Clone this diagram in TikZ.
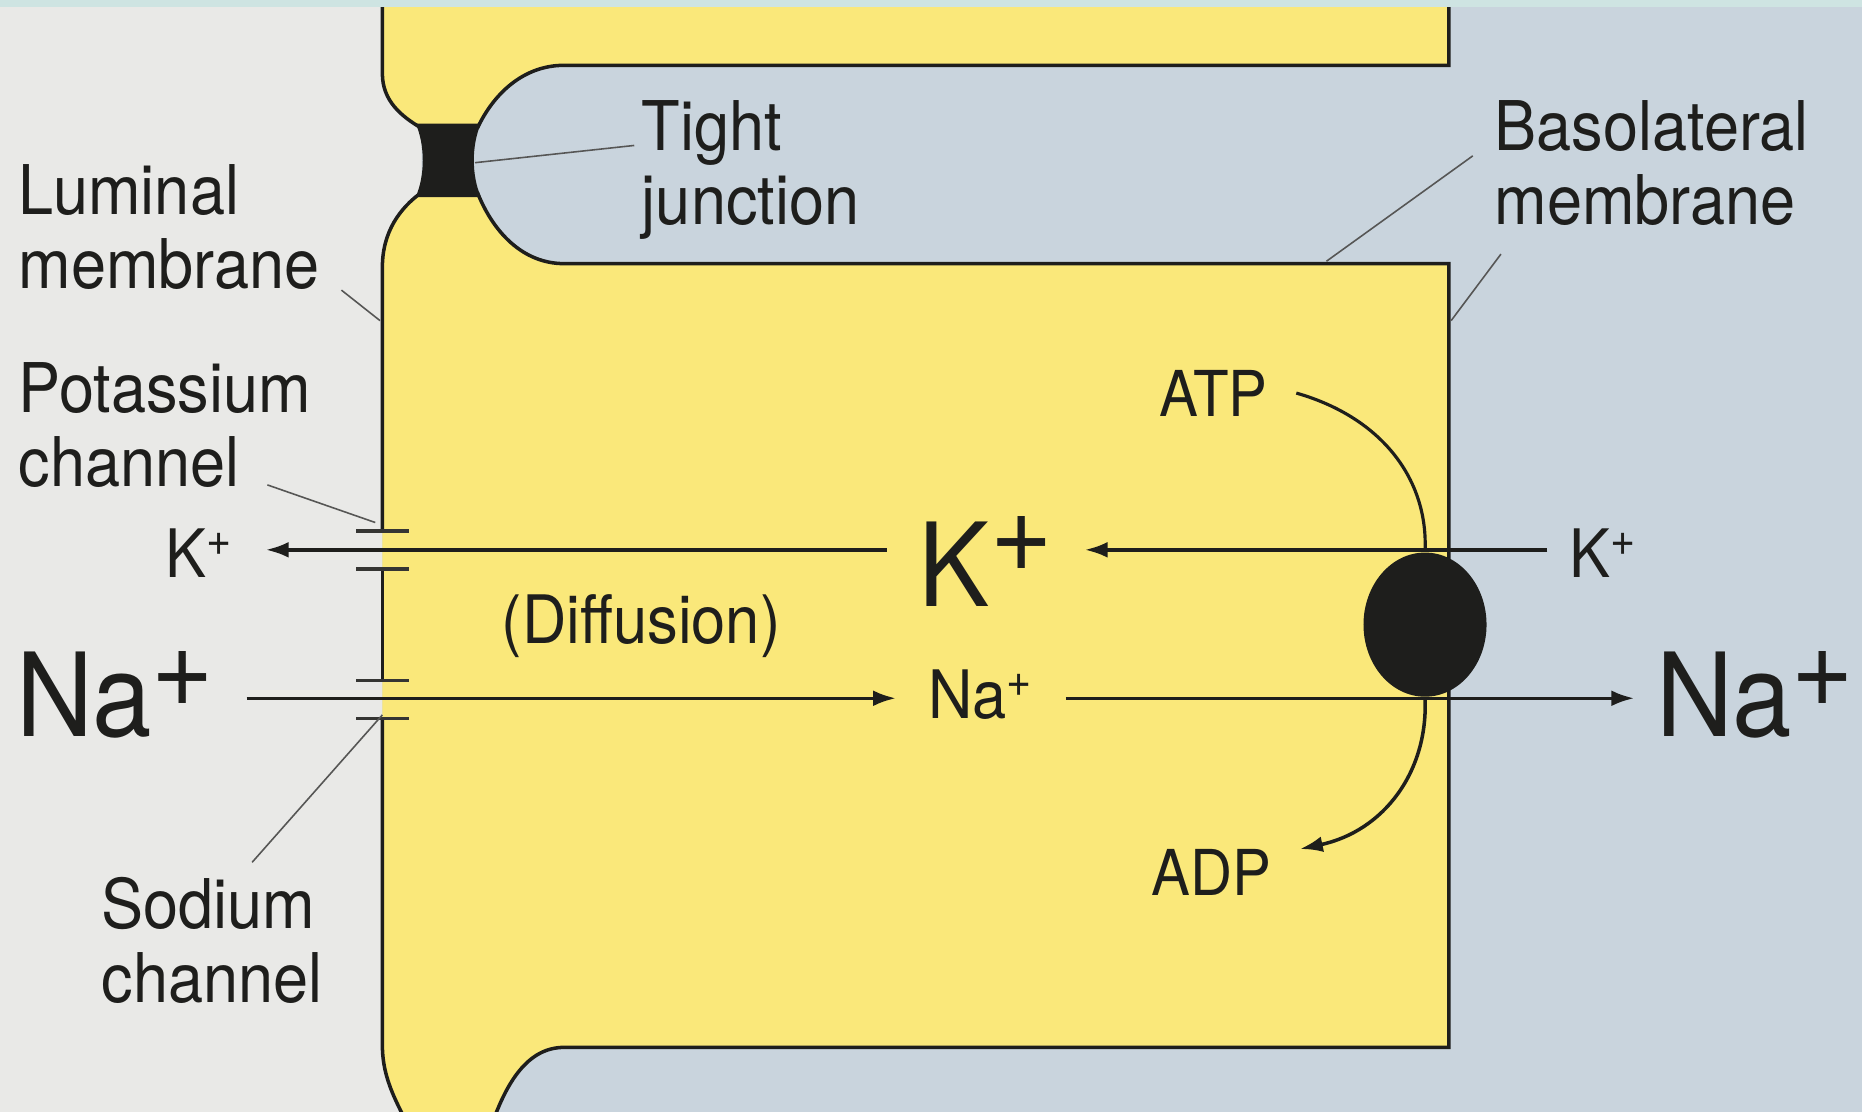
\documentclass[tikz,border=0pt]{standalone}
\usepackage{fontspec}
\setmainfont{TeX Gyre Heros}[FakeStretch=0.92]
\usepackage{tikz}
\usetikzlibrary{arrows.meta,shapes.geometric}
\definecolor{cellyel}{RGB}{250,232,122}
\definecolor{lumgray}{RGB}{233,233,231}
\definecolor{intgray}{RGB}{201,212,221}
\definecolor{topband}{RGB}{206,228,226}
\definecolor{ink}{RGB}{30,30,28}
\newcommand{\lblsize}{\fontsize{19.5pt}{21pt}\selectfont}
\newcommand{\ionbig}{\fontsize{33pt}{33pt}\selectfont}
\newcommand{\ionsmall}{\fontsize{19pt}{19pt}\selectfont}
\newcommand{\atpsize}{\fontsize{18pt}{18pt}\selectfont}
\newcommand{\bplus}[1]{\raisebox{#1}{+}}
\tikzset{
  memb/.style={draw=ink, line width=1pt},
  chan/.style={draw=ink!90, line width=1.1pt},
  arr/.style={-{Latex[length=6.5pt,width=4.5pt]}, draw=ink, line width=1pt},
  flow/.style={draw=ink, line width=0.9pt},
  lead/.style={draw=ink!75, line width=0.45pt},
  lbl/.style={anchor=north west, inner sep=0pt, align=left, font=\lblsize, text=ink},
  ion/.style={inner ysep=0pt, inner xsep=9pt, text depth=0pt, text=ink},
  bigion/.style={ion, font=\ionbig},
  smallion/.style={ion, font=\ionsmall},
  nuc/.style={inner ysep=0pt, inner xsep=8pt, font=\atpsize, text=ink},
  pumpbox/.style={ellipse, fill=ink, inner sep=0pt, minimum width=35pt, minimum height=41pt}
}
\begin{document}
\begin{tikzpicture}[x=0.011875cm, y=-0.011875cm]
  \useasboundingbox (0,0) rectangle (1568,936);
  \clip (0,0) rectangle (1568,936);
  \fill[intgray] (0,0) rectangle (1568,936);
  \fill[lumgray] (0,-10) -- (322,-10) -- (322,62) .. controls (322,85) and (338,98) .. (355,108)
    -- (355,162) .. controls (337,175) and (322,195) .. (322,225) -- (322,880)
    .. controls (322,910) and (335,930) .. (350,960) -- (0,960) -- cycle;
  \fill[cellyel] (322,-10) -- (322,62) .. controls (322,85) and (338,98) .. (355,108)
    -- (402,108) .. controls (415,80) and (440,55) .. (475,55) -- (1220,55) -- (1220,-10) -- cycle;
  \fill[cellyel] (355,162) .. controls (337,175) and (322,195) .. (322,225) -- (322,880)
    .. controls (322,910) and (335,930) .. (350,960) -- (410,960)
    .. controls (425,910) and (445,882) .. (475,882) -- (1220,882) -- (1220,222) -- (475,222)
    .. controls (440,222) and (415,195) .. (402,162) -- cycle;
  \draw[memb] (322,-10) -- (322,62) .. controls (322,85) and (338,98) .. (355,108);
  \draw[memb] (402,108) .. controls (415,80) and (440,55) .. (475,55) -- (1220,55) -- (1220,-10);
  \draw[memb] (355,162) .. controls (337,175) and (322,195) .. (322,225) -- (322,447);
  \draw[memb] (322,479) -- (322,573);
  \draw[memb] (322,605) -- (322,880) .. controls (322,910) and (335,930) .. (350,960);
  \draw[memb] (402,162) .. controls (415,195) and (440,222) .. (475,222) -- (1220,222)
    -- (1220,882) -- (475,882) .. controls (445,882) and (425,910) .. (410,960);
  \fill[ink] (350,104) -- (405,104) .. controls (397,122) and (397,148) .. (405,166)
    -- (350,166) .. controls (358,148) and (358,122) .. cycle;
  \foreach \y in {447,479,573,605}
    \draw[chan] (300,\y) -- (344,\y);
  \fill[topband] (0,0) rectangle (1568,6);

  \coordinate (tj) at (400,137);
  \coordinate (lumpt) at (320,270);
  \coordinate (blpt1) at (1117,220);
  \coordinate (blpt2) at (1222,270);
  \coordinate (kchpt) at (316,440);
  \coordinate (nachpt) at (322,602);

  \node[lbl] (lum) at (15,138) {Luminal\\membrane};
  \node[lbl] (tjl) at (540,84) {Tight\\junction};
  \node[lbl] (bl) at (1258,84) {Basolateral\\membrane};
  \node[lbl] (pc) at (15,305) {Potassium\\channel};
  \node[lbl] (sc) at (85,738) {Sodium\\channel};
  \node[text=ink, font=\ionsmall, inner sep=0pt] (diff) at (540,527) {(Diffusion)};

  \draw[lead] ([xshift=6pt]lum.south east) -- (lumpt);
  \draw[lead] (tj) -- ([shift={(-2pt,-13pt)}]tjl.north west);
  \draw[lead] ([xshift=-6pt,yshift=2pt]bl.west) -- (blpt1);
  \draw[lead] ([shift={(2pt,-8pt)}]bl.south west) -- (blpt2);
  \draw[lead] ([xshift=71pt,yshift=1pt]pc.south west) -- (kchpt);
  \draw[lead] ([xshift=43pt,yshift=4pt]sc.north west) -- (nachpt);

  \node[smallion, text height=15.5pt] (kout) at (168,463) {K\textsuperscript{+}};
  \node[bigion, text height=32.4pt] (kin) at (830,463) {K\bplus{10pt}};
  \node[smallion, text height=15.5pt, inner xsep=6pt] (kblood) at (1350,463) {K\textsuperscript{+}};
  \node[bigion, text height=21.6pt] (naout) at (97,588) {Na\bplus{8.5pt}};
  \node[smallion, text height=11.5pt] (nain) at (826,588) {Na\textsuperscript{+}};
  \node[bigion, text height=21.6pt, inner xsep=6pt] (nablood) at (1478,588) {Na\bplus{8.5pt}};

  \node[pumpbox] (pump) at (1200,526) {};
  \node[nuc] (atp) at (1022,331) {ATP};
  \node[nuc] (adp) at (1020,735) {ADP};

  \draw[arr] (kin) -- (kout);
  \draw[arr] (kblood) -- (kin);
  \draw[arr] (naout) -- (nain);
  \draw[arr] (nain) -- (nablood);
  \draw[flow] (atp.east) .. controls (1165,352) and (1203,405) .. (pump.north);
  \draw[arr] (pump.south) .. controls (1203,650) and (1165,700) .. (adp.north east);
\end{tikzpicture}
\end{document}
